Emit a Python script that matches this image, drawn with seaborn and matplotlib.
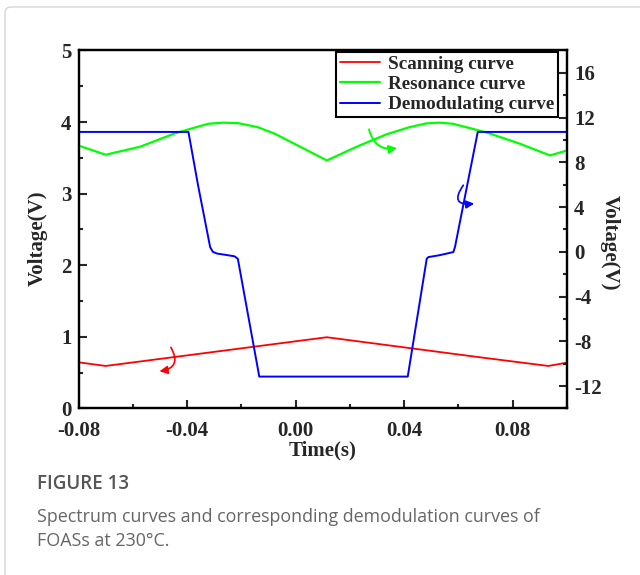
import numpy as np
import pandas as pd
import matplotlib.pyplot as plt
import seaborn as sns
from matplotlib.patches import FancyBboxPatch
from matplotlib.ticker import MultipleLocator, FormatStrFormatter

# Data
# ==============================================

# Scanning curve (left axis, V)
scan_t = [-0.08, -0.0700, 0.0115, 0.0679, 0.0931, 0.10]
scan_v = [0.645, 0.594, 0.995, 0.715, 0.594, 0.64]

# Resonance curve (right axis, V)
reso_t = [-0.08, -0.0700, -0.0573, -0.0444, -0.0380, -0.0322, -0.0265, -0.0211,
          -0.0140, -0.0076, 0.0115, 0.0230, 0.0334, 0.0420, 0.0481, 0.0530,
          0.0579, 0.0700, 0.0827, 0.0937, 0.10]
reso_v = [9.50, 8.68, 9.40, 10.60, 11.05, 11.45, 11.55, 11.50,
          11.15, 10.55, 8.17, 9.45, 10.50, 11.15, 11.48, 11.55,
          11.45, 10.70, 9.66, 8.62, 9.06]

# Demodulating curve (right axis, V)
demod_t = [-0.08, -0.0395, -0.0360, -0.0315, -0.0305, -0.0290, -0.0250, -0.0225,
           -0.0213, -0.0134, 0.0413, 0.0483, 0.0489, 0.0530, 0.0581, 0.0587,
           0.0671, 0.10]
demod_v = [10.72, 10.72, 6.0, 0.42, 0.0, -0.15, -0.30, -0.40,
           -0.62, -11.15, -11.15, -0.61, -0.47, -0.30, -0.02, 0.42,
           10.72, 10.72]

labels = ['Scanning curve', 'Resonance curve', 'Demodulating curve']
colors = ['#ff0000', '#00ff00', '#0000ff']

# hand-drawn axis arrows: (start, end) in data units
scan_arrow = [(-0.0465, 0.887), (-0.0512, 0.514)]
reso_arrow = [(0.0268, 11.19), (0.0384, 9.31)]
demod_arrow = [(0.0624, 6.16), (0.0668, 4.34)]

caption_title = 'FIGURE 13'
caption_text = 'Spectrum curves and corresponding demodulation curves of\nFOASs at 230°C.'

# Style
# ==============================================
sns.set_style('ticks')
plt.rcParams['font.family'] = ['Liberation Serif', 'DejaVu Serif']
plt.rcParams['font.weight'] = 'bold'
plt.rcParams['axes.labelweight'] = 'bold'
plt.rcParams['axes.unicode_minus'] = False

fig = plt.figure(figsize=(6.4, 5.75), dpi=100)
ax = fig.add_axes([0.1227, 0.2896, 0.7633, 0.6226])
ax2 = ax.twinx()

sns.lineplot(x=scan_t, y=scan_v, ax=ax, color=colors[0], lw=1.3,
             sort=False, estimator=None, legend=False)
sns.lineplot(x=reso_t, y=reso_v, ax=ax2, color=colors[1], lw=1.6,
             sort=False, estimator=None, legend=False)
sns.lineplot(x=demod_t, y=demod_v, ax=ax2, color=colors[2], lw=1.4,
             sort=False, estimator=None, legend=False)

# curved arrows pointing to each axis
ax.annotate('', xy=scan_arrow[1], xytext=scan_arrow[0],
            arrowprops=dict(arrowstyle='-|>', color=colors[0], lw=1.2,
                            connectionstyle='arc3,rad=-0.8', mutation_scale=12))
ax2.annotate('', xy=reso_arrow[1], xytext=reso_arrow[0],
             arrowprops=dict(arrowstyle='-|>', color=colors[1], lw=1.4,
                             connectionstyle='arc3,rad=0.5', mutation_scale=12))
ax2.annotate('', xy=demod_arrow[1], xytext=demod_arrow[0],
             arrowprops=dict(arrowstyle='-|>', color=colors[2], lw=1.2,
                             connectionstyle='arc3,rad=1.2', mutation_scale=12))

# Axes
# ==============================================
ax.set_xlim(-0.08, 0.10)
ax.set_ylim(0, 5)
ax2.set_ylim(-14, 18)

ax.set_xticks([-0.08, -0.04, 0.0, 0.04, 0.08])
ax.xaxis.set_major_formatter(FormatStrFormatter('%.2f'))
ax.xaxis.set_minor_locator(MultipleLocator(0.02))
ax.yaxis.set_major_locator(MultipleLocator(1))
ax.yaxis.set_minor_locator(MultipleLocator(0.5))
ax2.set_yticks([-12, -8, -4, 0, 4, 8, 12, 16])
ax2.yaxis.set_minor_locator(MultipleLocator(2))

for a in (ax, ax2):
    a.tick_params(which='both', direction='in', width=1.5, labelsize=15, pad=5)
    a.tick_params(which='major', length=6)
    a.tick_params(which='minor', length=3)
    for s in a.spines.values():
        s.set_linewidth(1.6)
        s.set_color('black')
ax.tick_params(which='both', top=False, right=False)
ax.tick_params(axis='x', pad=9)
ax2.tick_params(which='both', top=False, left=False)

ax.set_xlabel('Time(s)', fontsize=15, labelpad=0)
ax.set_ylabel('Voltage(V)', fontsize=15)
ax.yaxis.set_label_coords(-0.062, 0.476)
ax2.set_ylabel('Voltage(V)', fontsize=15, rotation=270, va='bottom')
ax2.yaxis.set_label_coords(1.068, 0.462)

leg = ax2.legend([ax.lines[0], ax2.lines[0], ax2.lines[1]], labels,
                 loc='upper right', bbox_to_anchor=(0.981, 0.997), borderaxespad=0,
                 fancybox=False, edgecolor='black', framealpha=1,
                 prop={'size': 13.8, 'weight': 'bold'},
                 handlelength=2.1, handletextpad=0.4, labelspacing=0.15, borderpad=0.2)
leg.get_frame().set_linewidth(1.5)

# Card border and caption
# ==============================================
fig.patches.append(FancyBboxPatch((5 / 640, -0.1), 1.2, 1 - 7 / 575 + 0.1,
                                  boxstyle='round,pad=0,rounding_size=0.01',
                                  transform=fig.transFigure, fill=False,
                                  edgecolor='#d6d6d6', lw=1.0))
fig.text(37 / 640, 1 - 484 / 575, caption_title, family='Open Sans', weight='semibold',
         color='#555555', fontsize=13.5, va='center')
fig.text(37 / 640, 1 - 508 / 575, caption_text, family='Open Sans', weight='normal',
         color='#666666', fontsize=12.9, va='top', linespacing=1.4)

plt.savefig('out.png', dpi=100)
plt.close()
